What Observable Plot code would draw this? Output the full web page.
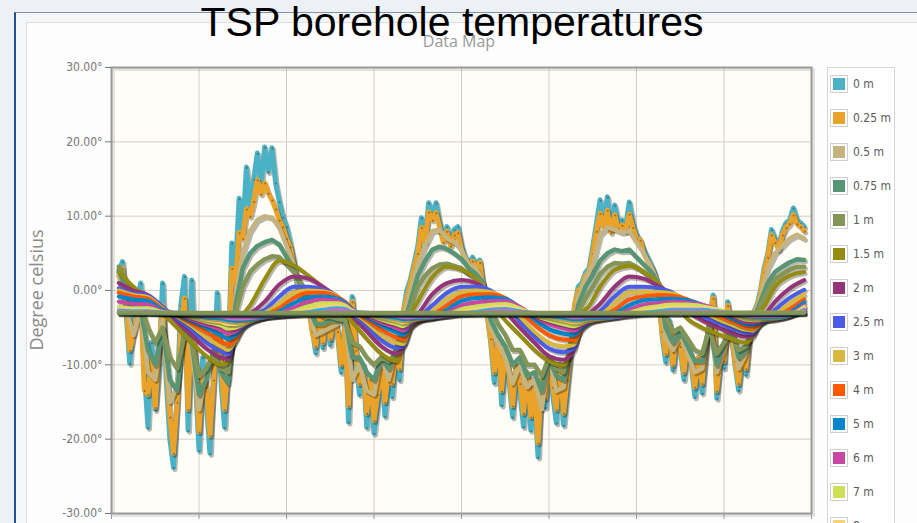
<!DOCTYPE html>
<html><head><meta charset="utf-8">
<script src="https://cdn.jsdelivr.net/npm/d3@7"></script>
<script src="https://cdn.jsdelivr.net/npm/@observablehq/plot@0.6"></script>
<style>
html,body{margin:0;padding:0;}
body{width:917px;height:523px;overflow:hidden;position:relative;background:#edf0f4;font-family:"DejaVu Sans",sans-serif;}
#outer{position:absolute;left:14px;top:12px;width:903px;height:511px;background:#f5f6f8;border-left:2px solid #23508e;border-top:1px solid #7d93b0;}
#panel{position:absolute;left:26px;top:22px;width:891px;height:501px;background:#fdfdfd;border-left:1px solid #dedede;border-top:1px solid #dedede;}
#chart{position:absolute;left:0;top:0;}
#sub{position:absolute;left:359px;width:200px;top:33px;text-align:center;font-size:16px;line-height:16px;font-family:"Open Sans","DejaVu Sans",sans-serif;color:#9a9a9a;}
#title{position:absolute;left:0;width:904px;top:2px;text-align:center;font-size:41px;line-height:41px;font-family:"Liberation Sans",Arial,sans-serif;color:#000;}
#ylab{position:absolute;left:-64px;top:280px;width:200px;height:20px;line-height:20px;text-align:center;font-size:18px;font-family:"Open Sans","DejaVu Sans",sans-serif;color:#8a8a8a;transform:rotate(-90deg);transform-origin:50% 50%;}
#legend{position:absolute;left:827px;top:67px;width:66px;height:700px;border:1px solid #d6d6d6;background:#fff;}
.sw{position:absolute;width:12px;height:12px;border:2px solid #fff;outline:1px solid #d0d0d0;}
.lt{position:absolute;height:16px;line-height:16px;font-size:12px;color:#5a5a5a;font-family:"DejaVu Sans Condensed","Liberation Sans Narrow","DejaVu Sans",sans-serif;font-stretch:condensed;white-space:nowrap;}
</style></head>
<body>
<div id="outer"></div>
<div id="panel"></div>
<div id="sub">Data Map</div>
<div id="ylab">Degree celsius</div>
<div id="legend"></div>
<div id="title">TSP borehole temperatures</div>
<script>
// ---- series names and colours ----
const depths = ["0 m","0.25 m","0.5 m","0.75 m","1 m","1.5 m","2 m","2.5 m","3 m","4 m","5 m","6 m","7 m","8 m","9 m","10 m","12 m","15 m","20 m","25 m","30 m"];
const colors = ["#4bb2c5","#EAA228","#c5b47f","#579575","#839557","#958c12","#953579","#4b5de4","#d8b83f","#ff5800","#0085cc","#c747a3","#cddf54","#FBD178","#26B4E3","#bd70c7","#4bb2c5","#EAA228","#c5b47f","#579575","#839557"];
const yTicks = [-30,-20,-10,0,10,20,30];
const xTicks = [0,6,12,18,24,30,36,42,48];

// ---- time axes (months since start of record) ----
const t_quarter = d3.range(0.5, 47.51, 0.25);
const t_half = d3.range(0.5, 47.51, 0.5);
const t_mid = [0.5,1.5,2.5,3.5,4.5,5.5,6.5,7.5,8.0,8.5,9.0,9.5,10.5,11.5,12.5,13.5,14.5,15.5,16.0,16.5,17.5,18.5,19.5,20.0,20.5,21.0,22.0,23.0,24.0,25.0,26.0,27.0,28.0,29.0,30.0,31.0,31.7,32.2,32.7,33.5,34.5,35.5,36.5,37.5,38.5,39.5,40.5,41.5,42.5,43.5,44.0,44.4,44.8,45.5,46.5,47.5];
const t_deep = [0.5,6,12,18,24,30,36,42,47.5];

// ---- temperatures (deg C) ----
const d0_00 = [
 2.5,3.9,-3,-9.8,-4,-1.5,1.0,-11,-18.4,-7,-16,-10,1.0,-12,-20,-23.8,-14,-2,1.9,-18.8,1.4,-12,-21.5,-9,-15,-21.9,-11,-0.3,-12,-18.4,-9,
 6.4,3,12.4,8,16.6,11,15,18.5,14,19.3,16,19.2,14.5,12,9.9,8.6,6.4,4,0.5,-1.5,
 -3,-1.5,-5,-8.4,-2.5,-7.7,-2,-7.3,-3,-6,-11,-4,-17.7,-0.8,-9,-14,-10,-18.4,-13,-19.2,-15,-10,-16.9,-11,-14.3,-8,-12,
 -3,0,1.5,3.7,5.9,9.8,7,11.8,10,11.8,9.1,7,8.6,6.5,8.2,8.6,6,4.5,3.5,4.5,3.5,4.1,0.5,
 -3,-7,-12.4,-6,-15.4,-8,-12,-17,-10,-13.8,-18.3,-11,-18.8,-14,-22.4,-12,-15.7,-9,-14,-17.8,-10,-18.1,-13,-8,-2,
 0.5,1,2.4,3,5.9,9,12.2,9.1,12.6,8.2,11.5,9,9.5,8.5,11.9,9,7.5,6.8,5.5,4.5,3.5,2.4,0,
 -6,-9.6,-4,-10.7,-6,-8,-12,-7,-10,-14.3,-9,-13.8,-8.3,-4,-0.6,-14.5,-9,-10.4,-1.5,-6,-10,-13.4,-8,-11.3,-6,-3,-2,
 0,3,5,8.2,7,5.9,8,9.1,9.5,11.1,9.5,9.1,8.6];
const d0_25 = [
 2.0,3.0,-2,-8,-6,-3,-1,-13.4,-14,-9,-15.7,-8,-2,-10,-17,-21.9,-15,-5,-1,-16,-3,-10,-19,-11,-13,-19.5,-12,-3,-10,-16,-10,
 3,1,7.8,7,11,10,12,14.9,13,14.5,13.1,12.2,11,9.5,8.6,7,5.9,3.5,1.4,-1,
 -2.5,-2,-5.5,-7.5,-3,-7,-2.5,-6.5,-3.5,-5.5,-10,-5,-15.5,-1.5,-8,-12.5,-10,-16.5,-12,-17.5,-14,-10,-15,-11,-12.5,-8,-10.5,
 -3,-1,1,3,5,8.5,6.5,10.6,9.5,10.5,8.5,6.5,8,6,7.5,7.8,5.5,4,3,4,3,3.8,0,
 -3,-6.5,-11,-6.5,-13.5,-8,-11,-15.5,-10,-12.5,-16.5,-11,-17,-13,-20.5,-12,-14.5,-9,-13,-16,-10,-16.5,-12,-7.5,-2,
 0,0.5,2,2.5,5,8,10.4,8.5,10.8,7.8,10.2,8.4,8.8,8,10.3,8.5,7,6.8,5,4,3.2,2,-0.5,
 -5.5,-8.5,-4.5,-10,-6,-7.5,-11,-7,-9.5,-13,-9,-12.5,-8,-4,-1,-13.5,-9,-9.5,-2,-6,-9.5,-12.5,-8,-10.5,-6,-3.2,-2.2,
 -0.5,2.5,4.5,7.5,6.5,5.5,7.5,8.5,9,10.2,9,8.6,8];
const d0_50 = [
 2.0,-2.5,-6,-2.5,-11,-12,-4,-15,-13,-4,-8,-16,-11,-9,-10,-12,
 -1,5,8,9.5,10,9.8,8.5,6,3.5,0,
 -2.5,-6,-5.5,-5,-4.5,-3.5,-12,-10,-13.5,-14,-9,-12,-8,-4,
 0,3.5,6,8,8.2,7,6.5,5.5,3.5,3,1,
 -5,-7,-9,-12.5,-10,-13,-12,-16,-9,-13.5,-13,-7,
 -1,1.5,3.5,7.5,8.5,8.2,7.8,8,6.5,5,3.2,1,
 -6.5,-8,-6,-8.5,-11,-10.5,-4,-11,-8,-5,-10.5,-8.5,-3.5,
 -1,3,5,6,7,7.5,7];
const d0_75 = [
 2.8,0,-3,-2.5,-8,-10,-5,-12,-13.5,-5,-7,-14,-12,-8,-11,-12.5,
 -2,3,5,6,6.5,6.8,6.2,4.5,2.8,0.5,
 -2,-4.5,-4.5,-4,-4,-3.5,-9,-9,-11,-12,-9,-10.5,-8,-5,
 -1.5,2,4,5.5,5.9,5.6,5,4.2,3,2.2,1,
 -4,-6,-7.5,-10,-9,-11.5,-11,-13.5,-9,-11.5,-12,-7,
 -2,0.5,2,4,5,5.5,5.3,5.5,4.5,3.5,2.5,1,
 -5,-7,-5.5,-7.5,-9.5,-9.5,-4.5,-10,-7,-5,-9,-8,-4,
 -1.5,1,2.5,3.2,3.8,4.2,4.1];
const d1_0 = [
 3.2,1.5,-1,-2,-5,-7,-5,-9,-10.5,-6,-7,-11.5,-10.5,-8.5,-10.5,-11,
 -3,0.5,2.5,3.5,4.2,4.6,4.5,3.5,2.5,1.0,
 -1,-3,-3.5,-3.5,-3.8,-4,-7,-7.5,-9,-10,-9,-9.5,-8.5,-5.5,
 -2.5,0.5,2,3,3.5,3.6,3.3,3,2.2,1.6,0.8,
 -2.5,-4.5,-6,-8,-8,-10,-10,-11.5,-9,-10.5,-11,-7.5,
 -3,-1,0.5,2.2,3.2,3.7,3.6,3.7,3.2,2.5,1.8,0.8,
 -3.5,-5.5,-5,-6.5,-8,-8.5,-5,-8.5,-7,-5.5,-8,-7.5,-4.5,
 -2,0,1.5,2.2,2.8,3.2,3.2];
const d1_5 = [2.5,0.5,-1.0,-3.0,-5.0,-7.0,-8.8,-10.0,-9.5,-4.0,-3.2,-2.0,1.5,4.0,3.4,2.0,0.4,-1.8,-3.0,-4.2,-6.5,-8.5,-9.5,-6.0,-3.3,-1.5,1.8,3.2,2.8,1.5,-1.5,-4.0,-6.0,-8.0,-9.5,-10.0,-6.0,-3.2,-2.2,0.5,2.8,3.3,2.5,1.0,-1.5,-3.8,-5.0,-5.8,-6.5,-7.0,-6.0,-3.2,-2.0,0.5,2.0,2.5];
const d2_0 = [1.0,0.0,-0.6,-2.2,-4.2,-6.0,-7.8,-9.0,-9.2,-5.5,-3.6,-3.1,-1.5,0.8,1.9,1.6,0.5,-1.0,-2.2,-3.4,-5.5,-7.5,-8.5,-7.5,-4.2,-3.2,-0.5,1.0,1.4,1.0,-0.5,-2.8,-5.0,-7.0,-8.8,-9.3,-8.0,-4.0,-3.2,-1.8,0.5,1.9,1.6,0.6,-0.6,-2.8,-4.0,-4.9,-5.7,-6.2,-6.0,-4.2,-3.3,-1.5,0.3,1.4];
const d2_5 = [0.3,-0.4,-0.7,-2.2,-3.8,-5.3,-7.0,-8.2,-8.6,-6.5,-4.2,-3.4,-2.6,-0.8,0.5,0.5,0.1,-0.8,-1.8,-3.0,-4.8,-6.7,-7.7,-7.5,-4.9,-3.8,-2.0,-0.3,0.5,0.5,0.0,-1.8,-4.2,-6.2,-7.8,-8.3,-7.8,-4.6,-3.7,-2.8,-0.8,0.5,0.5,0.3,-0.3,-2.0,-3.4,-4.3,-5.1,-5.7,-5.7,-4.6,-3.8,-2.6,-1.0,0.1];
const d3_0 = [0.0,-0.6,-0.9,-2.4,-3.5,-4.8,-6.3,-7.5,-8.0,-6.8,-4.8,-3.8,-3.0,-1.8,-0.3,0.0,-0.1,-0.8,-1.6,-2.7,-4.3,-6.0,-7.0,-7.2,-5.0,-4.1,-2.8,-1.2,-0.2,0.0,-0.2,-1.2,-3.5,-5.5,-7.0,-7.5,-7.3,-5.0,-4.0,-3.3,-1.8,-0.3,-0.2,-0.2,-0.4,-1.5,-2.8,-3.8,-4.6,-5.3,-5.4,-4.7,-4.0,-3.2,-1.8,-0.5];
const d4_0 = [-0.3,-0.8,-1.1,-2.5,-3.3,-4.4,-5.6,-6.8,-7.3,-6.5,-5.0,-4.1,-3.3,-2.4,-1.0,-0.3,-0.3,-0.9,-1.5,-2.5,-3.9,-5.3,-6.3,-6.6,-4.9,-4.2,-3.3,-2.0,-0.8,-0.5,-0.5,-1.0,-2.8,-4.6,-6.0,-6.6,-6.7,-5.3,-4.3,-3.6,-2.6,-1.2,-0.8,-0.6,-0.7,-1.2,-2.2,-3.3,-4.1,-4.9,-5.0,-4.6,-4.1,-3.6,-2.5,-1.2];
const d5_0 = [-0.8,-1.2,-1.4,-2.6,-3.2,-4.1,-5.0,-6.0,-6.5,-6.0,-5.0,-4.3,-3.5,-2.8,-1.7,-0.9,-0.8,-1.1,-1.6,-2.5,-3.6,-4.7,-5.6,-6.0,-4.7,-4.1,-3.6,-2.6,-1.4,-1.0,-0.9,-1.1,-2.3,-3.9,-5.2,-5.8,-6.0,-5.1,-4.4,-3.8,-3.1,-2.0,-1.3,-1.2,-1.1,-1.3,-1.9,-2.8,-3.7,-4.5,-4.6,-4.4,-4.1,-3.8,-3.0,-1.6];
const d6_0 = [-1.5,-1.8,-1.9,-2.8,-3.1,-3.9,-4.6,-5.3,-5.8,-5.5,-4.8,-4.3,-3.6,-3.1,-2.3,-1.5,-1.2,-1.4,-1.8,-2.6,-3.4,-4.3,-5.0,-5.4,-4.5,-4.0,-3.7,-3.0,-2.0,-1.6,-1.4,-1.4,-2.2,-3.5,-4.5,-5.1,-5.4,-4.8,-4.3,-3.9,-3.4,-2.6,-1.9,-1.7,-1.5,-1.6,-1.9,-2.5,-3.4,-4.2,-4.3,-4.2,-4.0,-3.9,-3.3,-2.0];
const d7_0 = [-2.2,-2.4,-2.4,-2.9,-3.1,-3.6,-4.2,-4.7,-5.1,-5.0,-4.6,-4.2,-3.6,-3.3,-2.8,-2.1,-1.7,-1.7,-2.0,-2.7,-3.2,-3.9,-4.5,-4.8,-4.2,-3.9,-3.7,-3.3,-2.5,-2.2,-1.9,-1.8,-2.4,-3.3,-4.0,-4.5,-4.8,-4.5,-4.1,-3.9,-3.6,-3.0,-2.4,-2.1,-1.9,-1.9,-2.1,-2.5,-3.2,-3.9,-4.0,-4.0,-3.9,-3.8,-3.4,-2.2];
const d8_0 = [-2.5,-2.6,-2.7,-3.0,-3.05,-3.4,-3.9,-4.2,-4.5,-4.5,-4.3,-4.0,-3.6,-3.4,-3.1,-2.6,-2.2,-2.1,-2.3,-2.8,-3.1,-3.6,-4.0,-4.3,-4.0,-3.8,-3.6,-3.4,-2.9,-2.6,-2.3,-2.2,-2.6,-3.2,-3.6,-4.0,-4.3,-4.2,-3.9,-3.8,-3.6,-3.2,-2.8,-2.5,-2.3,-2.3,-2.4,-2.6,-3.1,-3.6,-3.7,-3.8,-3.7,-3.7,-3.4,-2.4];
const d9_0 = [-2.7,-2.8,-2.8,-3.0,-3.0,-3.3,-3.6,-3.8,-4.0,-4.1,-4.0,-3.9,-3.6,-3.4,-3.2,-2.9,-2.6,-2.4,-2.5,-2.9,-3.0,-3.4,-3.7,-3.9,-3.8,-3.7,-3.6,-3.4,-3.1,-2.9,-2.6,-2.5,-2.8,-3.1,-3.4,-3.7,-3.9,-3.9,-3.7,-3.7,-3.6,-3.3,-3.0,-2.8,-2.6,-2.6,-2.6,-2.8,-3.0,-3.4,-3.5,-3.6,-3.6,-3.6,-3.4,-2.6];
const d10_0 = [-2.8,-2.9,-2.9,-3.0,-3.0,-3.2,-3.4,-3.5,-3.7,-3.8,-3.8,-3.7,-3.5,-3.4,-3.3,-3.1,-2.9,-2.6,-2.7,-2.9,-3.0,-3.2,-3.4,-3.6,-3.6,-3.5,-3.5,-3.4,-3.2,-3.1,-2.8,-2.7,-2.9,-3.0,-3.2,-3.4,-3.6,-3.6,-3.5,-3.5,-3.5,-3.4,-3.1,-3.0,-2.8,-2.8,-2.8,-2.9,-3.0,-3.3,-3.4,-3.4,-3.4,-3.4,-3.3,-2.7];
const d12_0 = [-2.9,-3.2,-3.3,-3.1,-3.2,-3.2,-3.2,-3.0,-3.0];
const d15_0 = [-3.0,-3.1,-3.2,-3.1,-3.1,-3.1,-3.1,-3.0,-3.0];
const d20_0 = [-3.0,-3.1,-3.1,-3.1,-3.1,-3.1,-3.1,-3.1,-3.0];
const d25_0 = [-3.1,-3.1,-3.1,-3.1,-3.1,-3.1,-3.1,-3.1,-3.1];
const d30_0 = [-3.0,-3.0,-3.0,-3.0,-3.0,-3.0,-3.0,-3.0,-3.0];

const seriesValues = [d0_00,d0_25,d0_50,d0_75,d1_0,d1_5,d2_0,d2_5,d3_0,d4_0,d5_0,d6_0,d7_0,d8_0,d9_0,d10_0,d12_0,d15_0,d20_0,d25_0,d30_0];
const seriesTimes = [t_quarter,t_quarter,t_half,t_half,t_half,t_mid,t_mid,t_mid,t_mid,t_mid,t_mid,t_mid,t_mid,t_mid,t_mid,t_mid,t_deep,t_deep,t_deep,t_deep,t_deep];

const marks = [
  Plot.frame({fill:"#fffdf6"}),
  Plot.gridY({ticks:yTicks, stroke:"#cfcfcf", strokeOpacity:1}),
  Plot.gridX({ticks:xTicks, stroke:"#cfcfcf", strokeOpacity:1}),
];
seriesValues.forEach((vals, s) => {
  const ts = seriesTimes[s];
  const data = vals.map((v, i) => ({t: ts[i], v}));
  const curve = s >= 5 ? "monotone-x" : "linear";
  const w = s < 2 ? 5 : (s < 5 ? 4.5 : 4);
  marks.push(Plot.line(data, {x:"t", y:"v", stroke:"#000", strokeOpacity:0.28, strokeWidth:w, dx:1.5, dy:2, curve, clip:true}));
  marks.push(Plot.line(data, {x:"t", y:"v", stroke:colors[s], strokeWidth:w, curve, clip:true}));
  if (s < 2) marks.push(Plot.dot(data, {x:"t", y:"v", r:1.1, fill:"#3a3a3a", fillOpacity:0.45, stroke:null, dx:0.5, dy:0.8, clip:true}));
});
marks.push(Plot.frame({stroke:"#000", strokeOpacity:0.1, strokeWidth:3, dx:2, dy:2}));
marks.push(Plot.frame({stroke:"#9a9a9a", strokeWidth:2}));
marks.push(Plot.axisY({ticks:yTicks, tickFormat:d => d.toFixed(2) + "°", tickSize:6, tickPadding:3, color:"#777", fontSize:12, label:null}));
marks.push(Plot.axisX({ticks:xTicks, tickFormat:() => "", tickSize:6, color:"#999", label:null}));

const chart = Plot.plot({
  width:917, height:523,
  marginLeft:111, marginRight:106, marginTop:67, marginBottom:10,
  x:{domain:[0,48], axis:null, label:null},
  y:{domain:[-30,30], axis:null, label:null},
  style:{background:"transparent", fontFamily:'"DejaVu Sans Condensed","Liberation Sans Narrow","DejaVu Sans",sans-serif', fontSize:"12px", fontStretch:"condensed"},
  marks
});
chart.id = "chart";
document.body.insertBefore(chart, document.getElementById("sub"));

// legend (rows that fall inside the window)
depths.forEach((name, i) => {
  const cy = 84 + 34 * i;
  if (cy - 8 > 523) return;
  const sw = document.createElement("div");
  sw.className = "sw";
  sw.style.left = "831px"; sw.style.top = (cy - 8) + "px";
  sw.style.background = colors[i];
  document.body.appendChild(sw);
  const lt = document.createElement("div");
  lt.className = "lt";
  lt.style.left = "853px"; lt.style.top = (cy - 8) + "px";
  lt.textContent = name;
  document.body.appendChild(lt);
});
</script>
</body></html>
